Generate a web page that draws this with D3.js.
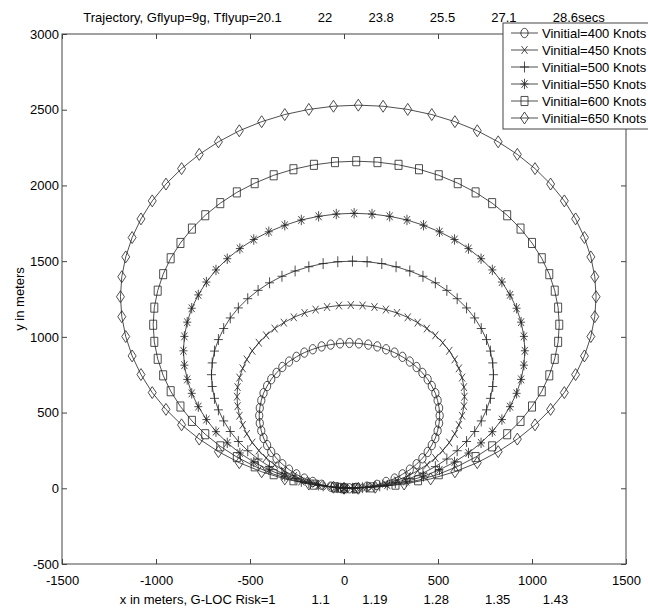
<!DOCTYPE html>
<html>
<head>
<meta charset="utf-8">
<script src="https://cdn.jsdelivr.net/npm/d3@7"></script>
<style>
  body { margin: 0; background: #fff; }
  svg text { font-family: "Liberation Sans", Arial, Helvetica, sans-serif; fill: #000; }
</style>
</head>
<body>
<div id="chart"></div>
<script>
// ticks and labels
const xTicks = [-1500, -1000, -500, 0, 500, 1000, 1500];
const yTicks = [-500, 0, 500, 1000, 1500, 2000, 2500, 3000];
const titleText = 'Trajectory, Gflyup=9g, Tflyup=20.1          22          23.8          25.5          27.1          28.6secs';
const xLabelText = 'x in meters, G-LOC Risk=1          1.1         1.19          1.28          1.35         1.43';
const yLabelText = 'y in meters';
const seriesLabels = ['Vinitial=400 Knots', 'Vinitial=450 Knots', 'Vinitial=500 Knots',
  'Vinitial=550 Knots', 'Vinitial=600 Knots', 'Vinitial=650 Knots'];
const seriesMarkers = ['circle', 'x', 'plus', 'star', 'square', 'diamond'];

// trajectory samples (metres)
const x400 = [0, 63, 122, 175, 224, 269, 311, 350, 386, 417, 445, 467, 486, 498, 506, 509,
  506, 498, 486, 467, 445, 417, 386, 350, 311, 269, 224, 177, 129, 79, 29,
  -21, -71, -119, -166, -211, -253, -292, -328, -359, -387, -409, -428, -440, -448, -451,
  -448, -440, -428, -409, -387, -359, -328, -292, -253, -211, -166, -119, -71, -21, 29];
const y400 = [0, 3, 11, 23, 42, 64, 92, 123, 159, 198, 240, 285, 332, 380, 430, 480,
  530, 580, 628, 675, 720, 762, 801, 837, 868, 896, 918, 937, 949, 957, 960,
  957, 949, 937, 918, 896, 868, 837, 801, 762, 720, 675, 628, 580, 530, 480,
  430, 380, 332, 285, 240, 198, 159, 123, 92, 64, 42, 23, 11, 3, 0];

const x450 = [0, 79, 153, 220, 282, 339, 392, 441, 486, 525, 560, 589, 611, 628, 638, 641,
  638, 628, 611, 589, 560, 525, 486, 441, 392, 339, 282, 223, 162, 99, 36,
  -27, -90, -151, -210, -267, -320, -369, -414, -453, -488, -517, -539, -556, -566, -569,
  -566, -556, -539, -517, -488, -453, -414, -369, -320, -267, -210, -151, -90, -27, 36];
const y450 = [0, 3, 13, 30, 52, 81, 116, 155, 200, 249, 302, 359, 418, 479, 542, 605,
  668, 731, 792, 851, 908, 961, 1010, 1055, 1094, 1129, 1158, 1180, 1197, 1207, 1210,
  1207, 1197, 1180, 1158, 1129, 1094, 1055, 1010, 961, 908, 851, 792, 731, 668, 605,
  542, 479, 418, 359, 302, 249, 200, 155, 116, 81, 52, 30, 13, 3, 0];

const x500 = [0, 98, 190, 273, 350, 420, 486, 547, 602, 652, 695, 730, 758, 779, 791, 795,
  791, 779, 758, 730, 695, 652, 602, 547, 486, 420, 350, 277, 201, 123, 45,
  -33, -111, -187, -260, -330, -396, -457, -512, -562, -605, -640, -668, -689, -701, -705,
  -701, -689, -668, -640, -605, -562, -512, -457, -396, -330, -260, -187, -111, -33, 45];
const y500 = [0, 4, 16, 37, 65, 100, 143, 193, 248, 309, 375, 445, 518, 594, 672, 750,
  828, 906, 982, 1055, 1125, 1191, 1252, 1307, 1357, 1400, 1435, 1463, 1484, 1496, 1500,
  1496, 1484, 1463, 1435, 1400, 1357, 1307, 1252, 1191, 1125, 1055, 982, 906, 828, 750,
  672, 594, 518, 445, 375, 309, 248, 193, 143, 100, 65, 37, 16, 4, 0];

const x550 = [0, 119, 230, 331, 423, 508, 588, 662, 729, 789, 840, 883, 918, 942, 957, 962,
  957, 942, 918, 883, 840, 789, 729, 662, 588, 508, 423, 335, 243, 149, 54,
  -41, -135, -227, -315, -400, -480, -554, -621, -681, -732, -775, -810, -834, -849, -854,
  -849, -834, -810, -775, -732, -681, -621, -554, -480, -400, -315, -227, -135, -41, 54];
const y550 = [0, 5, 20, 44, 79, 122, 173, 233, 300, 374, 454, 539, 627, 719, 813, 908,
  1003, 1097, 1189, 1277, 1362, 1442, 1516, 1583, 1643, 1694, 1737, 1772, 1796, 1811, 1816,
  1811, 1796, 1772, 1737, 1694, 1643, 1583, 1516, 1442, 1362, 1277, 1189, 1097, 1003, 908,
  813, 719, 627, 539, 454, 374, 300, 233, 173, 122, 79, 44, 20, 5, 0];

const x600 = [0, 142, 274, 394, 504, 605, 700, 788, 868, 939, 1000, 1052, 1092, 1121, 1139, 1145,
  1139, 1121, 1092, 1052, 1000, 939, 868, 788, 700, 605, 504, 399, 290, 178, 65,
  -48, -160, -269, -374, -475, -570, -658, -738, -809, -870, -922, -962, -991, -1009, -1015,
  -1009, -991, -962, -922, -870, -809, -738, -658, -570, -475, -374, -269, -160, -48, 65];
const y600 = [0, 6, 24, 53, 93, 145, 206, 277, 357, 445, 540, 641, 746, 855, 967, 1080,
  1193, 1305, 1414, 1519, 1620, 1715, 1803, 1883, 1954, 2015, 2067, 2107, 2136, 2154, 2160,
  2154, 2136, 2107, 2067, 2015, 1954, 1883, 1803, 1715, 1620, 1519, 1414, 1305, 1193, 1080,
  967, 855, 746, 641, 540, 445, 357, 277, 206, 145, 93, 53, 24, 6, 0];

const x650 = [0, 166, 320, 461, 590, 709, 820, 922, 1016, 1099, 1172, 1232, 1279, 1313, 1334, 1341,
  1334, 1313, 1279, 1232, 1172, 1099, 1016, 922, 820, 709, 590, 467, 339, 208, 76,
  -56, -187, -315, -438, -557, -668, -770, -864, -947, -1020, -1080, -1127, -1161, -1182, -1189,
  -1182, -1161, -1127, -1080, -1020, -947, -864, -770, -668, -557, -438, -315, -187, -56, 76];
const y650 = [0, 7, 28, 62, 109, 169, 242, 325, 419, 521, 632, 751, 874, 1002, 1133, 1265,
  1397, 1528, 1656, 1779, 1898, 2009, 2111, 2205, 2288, 2361, 2421, 2468, 2502, 2523, 2530,
  2523, 2502, 2468, 2421, 2361, 2288, 2205, 2111, 2009, 1898, 1779, 1656, 1528, 1397, 1265,
  1133, 1002, 874, 751, 632, 521, 419, 325, 242, 169, 109, 62, 28, 7, 0];

const xSeries = [x400, x450, x500, x550, x600, x650];
const ySeries = [y400, y450, y500, y550, y600, y650];

const width = 648;
const height = 614;
const plot = { left: 62, right: 626, top: 34, bottom: 564 };
const ink = '#222';

// marker glyphs, drawn in screen space (picture is a bit stretched vertically)
const MARKERS = {
  circle: 'M-3.6,0A3.6,3.6 0 1,0 3.6,0A3.6,3.6 0 1,0 -3.6,0Z',
  x: 'M-3,-3L3,3M-3,3L3,-3',
  plus: 'M-4.5,0L4.5,0M0,-4.2L0,4.2',
  star: 'M-4,0L4,0M0,-4L0,4M-3,-3L3,3M-3,3L3,-3',
  square: 'M-3.5,-3.5H3.5V3.5H-3.5Z',
  diamond: 'M0,-4.6L4,0L0,4.6L-4,0Z'
};
const markerStretch = 1.3;

// plain hyphen for negatives, like the original
const tickText = (d) => String(d);

const svg = d3.select('#chart')
  .append('svg')
  .attr('width', width)
  .attr('height', height)
  .attr('viewBox', `0 0 ${width} ${height}`);

const x = d3.scaleLinear().domain([-1500, 1500]).range([plot.left, plot.right]);
const y = d3.scaleLinear().domain([-500, 3000]).range([plot.bottom, plot.top]);

// axes box with inward ticks on all four sides
const styleAxis = (g, showText) => {
  g.select('.domain').remove();
  g.selectAll('.tick line').attr('stroke', '#444');
  g.selectAll('.tick text')
    .style('font-size', '13px')
    .style('display', showText ? null : 'none');
};

svg.append('g')
  .attr('transform', `translate(0,${plot.bottom})`)
  .call(d3.axisBottom(x).tickValues(xTicks).tickSize(-5).tickPadding(12).tickFormat(tickText))
  .call((g) => styleAxis(g, true));

svg.append('g')
  .attr('transform', `translate(0,${plot.top})`)
  .call(d3.axisTop(x).tickValues(xTicks).tickSize(-5).tickFormat(''))
  .call((g) => styleAxis(g, false));

svg.append('g')
  .attr('transform', `translate(${plot.left},0)`)
  .call(d3.axisLeft(y).tickValues(yTicks).tickSize(-5).tickPadding(3).tickFormat(tickText))
  .call((g) => styleAxis(g, true));

svg.append('g')
  .attr('transform', `translate(${plot.right},0)`)
  .call(d3.axisRight(y).tickValues(yTicks).tickSize(-5).tickFormat(''))
  .call((g) => styleAxis(g, false));

svg.append('rect')
  .attr('x', plot.left)
  .attr('y', plot.top)
  .attr('width', plot.right - plot.left)
  .attr('height', plot.bottom - plot.top)
  .attr('fill', 'none')
  .attr('stroke', '#444')
  .attr('stroke-width', 1);

// trajectories
const series = seriesLabels.map((label, i) => ({
  label,
  marker: seriesMarkers[i],
  points: xSeries[i].map((v, j) => [v, ySeries[i][j]])
}));

const line = d3.line().x((d) => x(d[0])).y((d) => y(d[1]));

const traj = svg.append('g');

series.forEach((s) => {
  traj.append('path')
    .attr('d', line(s.points))
    .attr('fill', 'none')
    .attr('stroke', ink)
    .attr('stroke-width', 0.8);

  traj.append('g')
    .selectAll('path')
    .data(s.points)
    .join('path')
    .attr('transform', (d) => `translate(${x(d[0])},${y(d[1])}) scale(1,${markerStretch})`)
    .attr('d', MARKERS[s.marker])
    .attr('fill', 'none')
    .attr('stroke', ink)
    .attr('stroke-width', 0.8)
    .attr('vector-effect', 'non-scaling-stroke');
});

// title and axis labels
svg.append('text')
  .attr('x', (plot.left + plot.right) / 2)
  .attr('y', 22)
  .attr('text-anchor', 'middle')
  .attr('xml:space', 'preserve')
  .style('font-size', '13px')
  .style('white-space', 'pre')
  .text(titleText);

svg.append('text')
  .attr('x', (plot.left + plot.right) / 2)
  .attr('y', 604)
  .attr('text-anchor', 'middle')
  .attr('xml:space', 'preserve')
  .style('font-size', '13px')
  .style('white-space', 'pre')
  .text(xLabelText);

svg.append('text')
  .attr('transform', `translate(24,${(plot.top + plot.bottom) / 2}) rotate(-90)`)
  .attr('text-anchor', 'middle')
  .style('font-size', '13px')
  .text(yLabelText);

// legend
const legend = svg.append('g').attr('transform', 'translate(503,23)');

legend.append('rect')
  .attr('width', 150)
  .attr('height', 106)
  .attr('fill', '#fff')
  .attr('stroke', '#444');

const rows = legend.selectAll('g.row')
  .data(series)
  .join('g')
  .attr('class', 'row')
  .attr('transform', (d, i) => `translate(0,${10 + i * 17})`);

rows.append('line')
  .attr('x1', 8)
  .attr('x2', 35)
  .attr('stroke', ink)
  .attr('stroke-width', 0.8);

rows.append('path')
  .attr('transform', `translate(21.5,0) scale(1,${markerStretch})`)
  .attr('d', (d) => MARKERS[d.marker])
  .attr('fill', 'none')
  .attr('stroke', ink)
  .attr('stroke-width', 0.8)
  .attr('vector-effect', 'non-scaling-stroke');

rows.append('text')
  .attr('x', 39)
  .attr('dy', '0.35em')
  .style('font-size', '13px')
  .text((d) => d.label);
</script>
</body>
</html>
